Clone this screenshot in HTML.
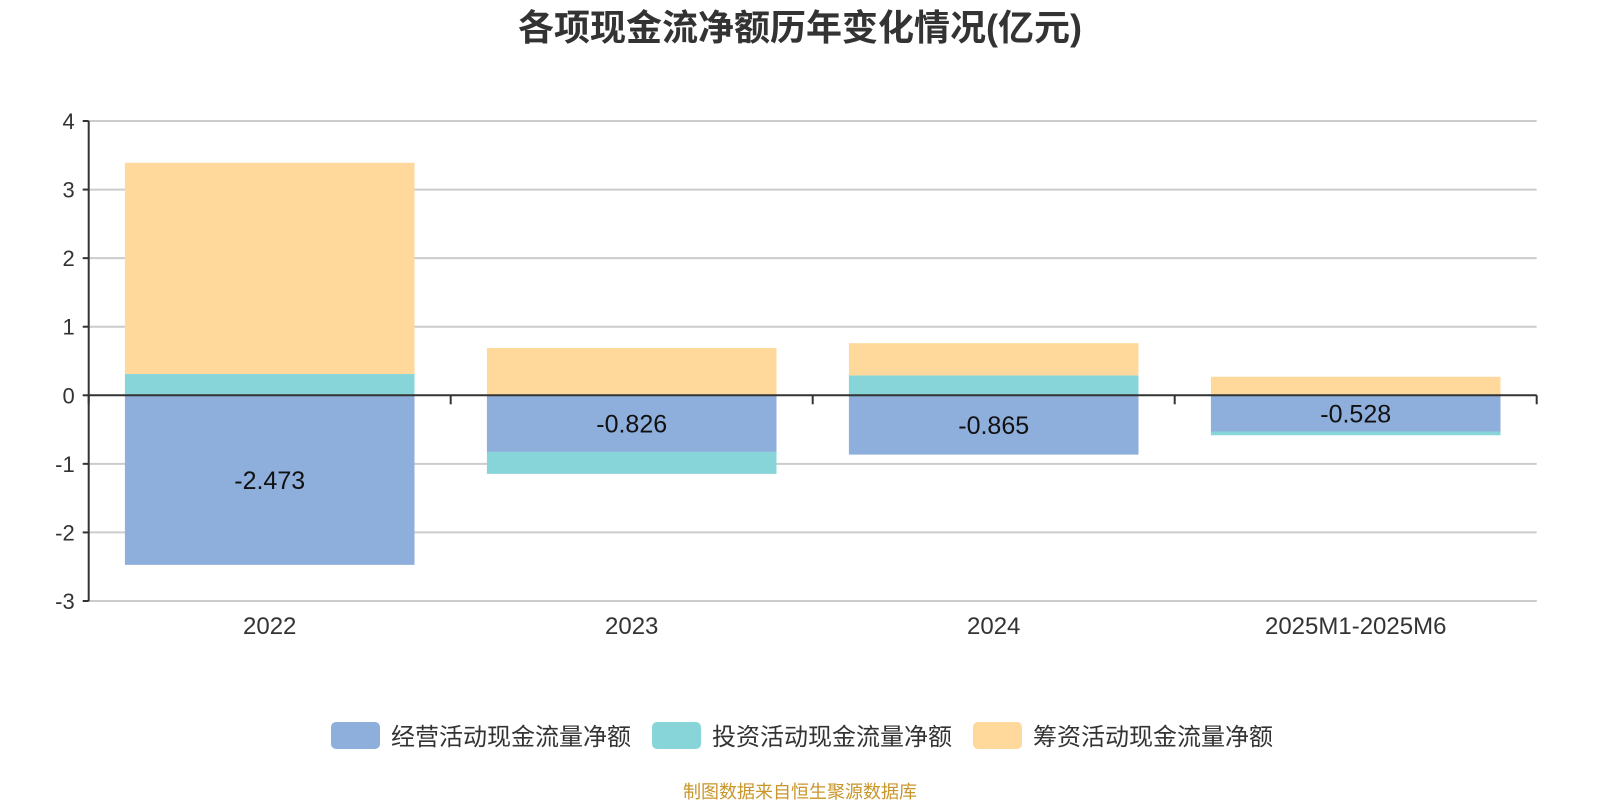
<!DOCTYPE html>
<html><head><meta charset="utf-8"><style>
body{margin:0;background:#fff;}
svg{display:block;font-family:"Liberation Sans","Noto Sans CJK SC",sans-serif;}
</style></head><body>
<svg width="1600" height="800" viewBox="0 0 1600 800">
<text x="800" y="40" text-anchor="middle" font-size="36" font-weight="bold" fill="#333">各项现金流净额历年变化情况(亿元)</text>
<g id="grid"></g><g id="bars"></g><g id="axes"></g><g id="labels"></g>
<g>
<rect x="331" y="722" width="49" height="27" rx="5" fill="#8eaedb"/>
<text x="391" y="745" font-size="24" fill="#333">经营活动现金流量净额</text>
<rect x="652" y="722" width="49" height="27" rx="5" fill="#87d5d8"/>
<text x="712" y="745" font-size="24" fill="#333">投资活动现金流量净额</text>
<rect x="973" y="722" width="49" height="27" rx="5" fill="#fed99b"/>
<text x="1033" y="745" font-size="24" fill="#333">筹资活动现金流量净额</text>
</g>
<text x="800" y="798" text-anchor="middle" font-size="18" fill="#c8962a">制图数据来自恒生聚源数据库</text>
</svg>
<script>
const categories=["2022","2023","2024","2025M1-2025M6"];
const operating=[-2.473,-0.826,-0.865,-0.528];
const investing=[0.31,-0.32,0.29,-0.055];
const financing=[3.08,0.69,0.47,0.27];
const yTicks=[-3,-2,-1,0,1,2,3,4];
const NS="http://www.w3.org/2000/svg";
const x0=88.7,x1=1536.7,yTop=121,yBot=601,vMin=-3,vMax=4;
const y=v=>yTop+(vMax-v)/(vMax-vMin)*(yBot-yTop);
const cw=(x1-x0)/categories.length;
const xc=i=>x0+cw*(i+0.5);
const bw=cw*0.8;
function mk(tag,attrs,parent){const e=document.createElementNS(NS,tag);for(const k in attrs)e.setAttribute(k,attrs[k]);document.getElementById(parent).appendChild(e);return e;}
yTicks.forEach(t=>{
 if(t!==0){const l=mk('line',{x1:x0,x2:x1,y1:y(t),y2:y(t),stroke:'#ccc','stroke-width':2},'grid');
 
 }
 const tk=mk('line',{x1:x0-6,x2:x0,y1:y(t),y2:y(t),stroke:'#333','stroke-width':2},'axes');
 
 
 const tx=mk('text',{x:x0-14,y:y(t)+8,'text-anchor':'end','font-size':22,fill:'#333'},'axes');
 tx.textContent=t;
 
 
});
const series=[{d:operating,c:'#8eaedb',n:'operating'},{d:investing,c:'#87d5d8',n:'investing'},{d:financing,c:'#fed99b',n:'financing'}];
categories.forEach((cat,i)=>{
 let pos=0,neg=0;
 series.forEach(s=>{
  const v=s.d[i];let a,b;
  if(v>=0){a=pos;b=pos+v;pos=b;}else{a=neg;b=neg+v;neg=b;}
  const top=y(Math.max(a,b)),bot=y(Math.min(a,b));
  const r=mk('rect',{x:xc(i)-bw/2,y:top,width:bw,height:bot-top,fill:s.c},'bars');
  
  
 });
 const lb=mk('text',{x:xc(i),y:y(operating[i]/2)+9,'text-anchor':'middle','font-size':25,fill:'#111'},'labels');
 lb.textContent=operating[i].toFixed(3);
 
 
 const cl=mk('text',{x:xc(i),y:634,'text-anchor':'middle','font-size':24,fill:'#333'},'axes');
 cl.textContent=cat;
 
 
});
for(let i=0;i<=categories.length;i++){
 const t=mk('line',{x1:x0+cw*i,x2:x0+cw*i,y1:y(0),y2:y(0)+9,stroke:'#333','stroke-width':2},'axes');
 
 
}
const bl=mk('line',{x1:x0,x2:x1,y1:yBot,y2:yBot,stroke:'#ccc','stroke-width':2},'grid');


const xa=mk('line',{x1:x0,x2:x1,y1:y(0),y2:y(0),stroke:'#333','stroke-width':2},'axes');


const ya=mk('line',{x1:x0,x2:x0,y1:yTop,y2:yBot,stroke:'#333','stroke-width':2},'axes');


</script>
</body></html>
